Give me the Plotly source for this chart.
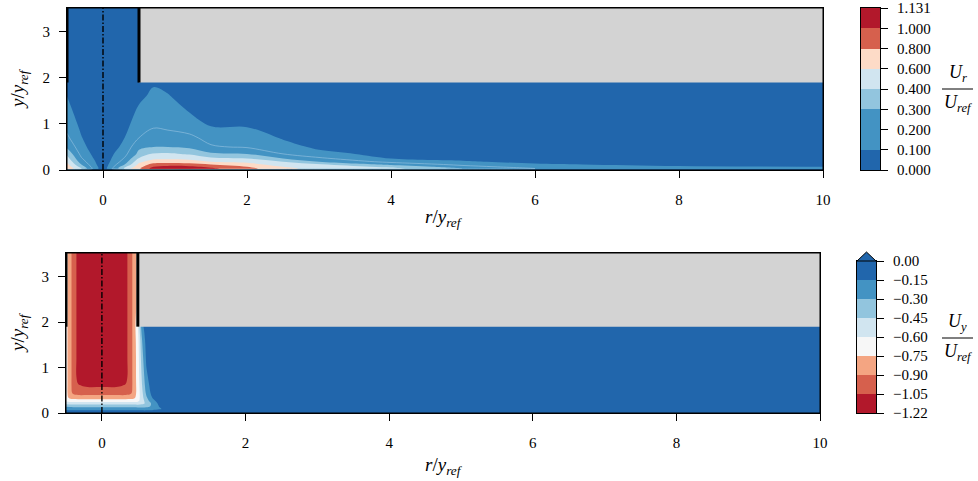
import numpy as np
import plotly.graph_objects as go

W, H = 978, 481

# ---------------- top panel: U_r / U_ref ----------------
r_top = [-0.5, -0.3, -0.15, 0.0, 0.15, 0.3, 0.5, 0.7, 0.9, 1.2, 1.5, 2.0, 2.5, 3.0, 4.0, 5.0, 6.0, 8.0, 10.0]
y_top = [0, 0.03, 0.07, 0.12, 0.18, 0.25, 0.35, 0.5, 0.7, 0.95, 1.25, 1.6, 1.9, 3.52]
# one vertical profile (values along y_top) per r_top position
ur_profiles = [
    [0, 0.76, 0.72, 0.66, 0.58, 0.48, 0.38, 0.28, 0.22, 0.17, 0.13, 0.10, 0.08, 0.03],
    [0, 0.42, 0.36, 0.30, 0.25, 0.21, 0.17, 0.14, 0.105, 0.08, 0.06, 0.04, 0.03, 0.03],
    [0, 0.20, 0.18, 0.15, 0.13, 0.11, 0.09, 0.06, 0.05, 0.04, 0.03, 0.02, 0.02, 0.02],
    [0, 0.03, 0.03, 0.03, 0.03, 0.03, 0.03, 0.02, 0.02, 0.02, 0.02, 0.02, 0.02, 0.02],
    [0, 0.23, 0.20, 0.17, 0.14, 0.12, 0.10, 0.07, 0.05, 0.04, 0.03, 0.02, 0.02, 0.02],
    [0, 0.45, 0.38, 0.30, 0.25, 0.21, 0.17, 0.13, 0.10, 0.07, 0.05, 0.04, 0.03, 0.03],
    [0, 0.78, 0.72, 0.65, 0.55, 0.42, 0.33, 0.28, 0.20, 0.16, 0.12, 0.08, 0.06, 0.03],
    [0, 1.06, 1.00, 0.88, 0.70, 0.55, 0.42, 0.30, 0.25, 0.19, 0.15, 0.12, 0.09, 0.03],
    [0, 1.12, 1.04, 0.90, 0.72, 0.56, 0.43, 0.30, 0.24, 0.18, 0.13, 0.105, 0.08, 0.03],
    [0, 1.10, 1.03, 0.87, 0.70, 0.53, 0.39, 0.28, 0.22, 0.16, 0.10, 0.07, 0.05, 0.03],
    [0, 1.03, 0.96, 0.80, 0.60, 0.45, 0.32, 0.21, 0.17, 0.10, 0.07, 0.05, 0.04, 0.03],
    [0, 0.87, 0.80, 0.68, 0.55, 0.40, 0.30, 0.19, 0.16, 0.095, 0.07, 0.05, 0.04, 0.03],
    [0, 0.64, 0.60, 0.50, 0.40, 0.30, 0.20, 0.14, 0.09, 0.06, 0.05, 0.04, 0.03, 0.03],
    [0, 0.55, 0.50, 0.42, 0.30, 0.22, 0.13, 0.08, 0.06, 0.05, 0.04, 0.03, 0.03, 0.03],
    [0, 0.45, 0.38, 0.28, 0.17, 0.10, 0.07, 0.05, 0.04, 0.03, 0.03, 0.02, 0.02, 0.02],
    [0, 0.30, 0.24, 0.17, 0.11, 0.08, 0.05, 0.04, 0.03, 0.03, 0.02, 0.02, 0.02, 0.02],
    [0, 0.20, 0.15, 0.11, 0.08, 0.05, 0.04, 0.03, 0.03, 0.02, 0.02, 0.02, 0.02, 0.02],
    [0, 0.16, 0.11, 0.08, 0.06, 0.04, 0.03, 0.03, 0.02, 0.02, 0.02, 0.02, 0.02, 0.02],
    [0, 0.14, 0.10, 0.07, 0.05, 0.04, 0.03, 0.02, 0.02, 0.02, 0.02, 0.02, 0.02, 0.02],
]
ur_levels = [0.0, 0.1, 0.2, 0.3, 0.4, 0.6, 0.8, 1.0, 1.131]
ur_ticks = ["0.000", "0.100", "0.200", "0.300", "0.400", "0.600", "0.800", "1.000", "1.131"]
ur_colors = ["#2166ac", "#4393c3", "#4393c3", "#92c5de", "#d1e5f0", "#fddbc7", "#d6604d", "#b2182b"]

# ---------------- bottom panel: U_y / U_ref ----------------
r_bot = [-0.5, -0.45, -0.4, -0.33, -0.2, 0.0, 0.2, 0.33, 0.4, 0.45, 0.5, 0.56, 0.62, 0.7,
         0.8, 0.9, 1.0, 1.5, 2.0, 3.0, 4.0, 6.0, 8.0, 10.0]
y_bot = [0, 0.04, 0.09, 0.15, 0.21, 0.27, 0.34, 0.45, 0.6, 0.8, 1.2, 1.6, 1.9, 2.4, 3.0, 3.52]
# one row (values along r_bot) per y_bot position
uy_rows = [
    [-0.01] * 24,
    [-0.09, -0.10, -0.10, -0.10, -0.10, -0.10, -0.10, -0.10, -0.10, -0.10, -0.10, -0.10, -0.10, -0.09, -0.07, -0.05, -0.04, -0.03, -0.03, -0.02, -0.02, -0.02, -0.02, -0.02],
    [-0.20, -0.21, -0.22, -0.22, -0.22, -0.22, -0.22, -0.22, -0.22, -0.22, -0.23, -0.24, -0.24, -0.22, -0.17, -0.10, -0.06, -0.03, -0.03, -0.02, -0.02, -0.02, -0.02, -0.02],
    [-0.33, -0.34, -0.35, -0.35, -0.35, -0.35, -0.35, -0.35, -0.35, -0.35, -0.36, -0.36, -0.34, -0.28, -0.14, -0.06, -0.04, -0.03, -0.03, -0.02, -0.02, -0.02, -0.02, -0.02],
    [-0.50, -0.51, -0.52, -0.52, -0.52, -0.52, -0.52, -0.52, -0.52, -0.52, -0.52, -0.49, -0.42, -0.27, -0.11, -0.05, -0.03, -0.03, -0.02, -0.02, -0.02, -0.02, -0.02, -0.02],
    [-0.64, -0.67, -0.68, -0.68, -0.68, -0.68, -0.68, -0.68, -0.68, -0.67, -0.64, -0.52, -0.37, -0.20, -0.08, -0.04, -0.03, -0.03, -0.02, -0.02, -0.02, -0.02, -0.02, -0.02],
    [-0.70, -0.78, -0.81, -0.82, -0.82, -0.82, -0.82, -0.82, -0.81, -0.78, -0.68, -0.50, -0.32, -0.15, -0.06, -0.03, -0.03, -0.02, -0.02, -0.02, -0.02, -0.02, -0.02, -0.02],
    [-0.70, -0.82, -0.94, -0.98, -0.98, -0.98, -0.98, -0.98, -0.94, -0.82, -0.69, -0.48, -0.26, -0.10, -0.04, -0.03, -0.02, -0.02, -0.02, -0.02, -0.02, -0.02, -0.02, -0.02],
    [-0.70, -0.82, -0.97, -1.04, -1.07, -1.07, -1.07, -1.04, -0.97, -0.82, -0.69, -0.45, -0.22, -0.08, -0.04, -0.03, -0.02, -0.02, -0.02, -0.02, -0.02, -0.02, -0.02, -0.02],
    [-0.70, -0.82, -0.97, -1.10, -1.17, -1.18, -1.17, -1.10, -0.97, -0.82, -0.68, -0.42, -0.18, -0.06, -0.03, -0.02, -0.02, -0.02, -0.02, -0.02, -0.02, -0.02, -0.02, -0.02],
    [-0.70, -0.82, -0.97, -1.10, -1.19, -1.21, -1.19, -1.10, -0.97, -0.82, -0.68, -0.36, -0.12, -0.04, -0.02, -0.02, -0.02, -0.02, -0.02, -0.02, -0.02, -0.02, -0.02, -0.02],
    [-0.70, -0.82, -0.97, -1.10, -1.19, -1.21, -1.19, -1.10, -0.97, -0.82, -0.66, -0.30, -0.08, -0.03, -0.02, -0.02, -0.02, -0.02, -0.02, -0.02, -0.02, -0.02, -0.02, -0.02],
    [-0.70, -0.82, -0.97, -1.10, -1.19, -1.21, -1.19, -1.10, -0.97, -0.82, -0.62, -0.20, -0.05, -0.02, -0.02, -0.02, -0.02, -0.02, -0.02, -0.02, -0.02, -0.02, -0.02, -0.02],
    [-0.70, -0.82, -0.97, -1.10, -1.19, -1.21, -1.19, -1.10, -0.97, -0.82, -0.70, -0.02, -0.02, -0.02, -0.02, -0.02, -0.02, -0.02, -0.02, -0.02, -0.02, -0.02, -0.02, -0.02],
    [-0.70, -0.82, -0.97, -1.10, -1.19, -1.21, -1.19, -1.10, -0.97, -0.82, -0.70, -0.02, -0.02, -0.02, -0.02, -0.02, -0.02, -0.02, -0.02, -0.02, -0.02, -0.02, -0.02, -0.02],
    [-0.70, -0.82, -0.97, -1.10, -1.19, -1.21, -1.19, -1.10, -0.97, -0.82, -0.70, -0.02, -0.02, -0.02, -0.02, -0.02, -0.02, -0.02, -0.02, -0.02, -0.02, -0.02, -0.02, -0.02],
]
uy_levels = [-1.22, -1.05, -0.90, -0.75, -0.60, -0.45, -0.30, -0.15, 0.00]
uy_ticks = ["\u22121.22", "\u22121.05", "\u22120.90", "\u22120.75", "\u22120.60",
            "\u22120.45", "\u22120.30", "\u22120.15", "0.00"]
uy_colors = ["#b2182b", "#d6604d", "#f4a582", "#f7f7f7", "#d1e5f0", "#92c5de", "#4393c3", "#2166ac"]

x_ticks = [0, 2, 4, 6, 8, 10]
y_ticks = [0, 1, 2, 3]
nozzle_r = 0.5
nozzle_y = 1.9
y_top_lim = 3.52

# ---------------- helpers ----------------
def px_x(p):
    return p / W

def px_y(p):
    return 1 - p / H

def step_scale(colors):
    n = len(colors) - 1
    return [[i / n, c] for i, c in enumerate(colors)]

# map values onto uniform level-index space (uneven contour levels)
ur_idx = np.interp(np.array(ur_profiles, dtype=float).T, ur_levels, np.arange(len(ur_levels)))
uy_idx = np.interp(np.array(uy_rows, dtype=float), uy_levels, np.arange(len(uy_levels)))

FONT = "Liberation Serif, Times New Roman, DejaVu Serif, serif"
tickfont = dict(family=FONT, size=15, color="black")

def field(x, y, z, colors, xa, ya):
    return go.Contour(
        x=x, y=y, z=z, xaxis=xa, yaxis=ya,
        colorscale=step_scale(colors), showscale=False, autocontour=False,
        contours=dict(start=1, end=len(colors) - 1, size=1, coloring="fill", showlines=False),
        line=dict(width=0, smoothing=1.0), hoverinfo="skip",
    )

def cbar(colors, xa, ya):
    n = len(colors)
    return go.Heatmap(
        x=[0], y=[i + 0.5 for i in range(n)], z=[[i] for i in range(n)],
        colorscale=step_scale(colors), zmin=0, zmax=n - 1, showscale=False,
        xaxis=xa, yaxis=ya, hoverinfo="skip",
    )

fig = go.Figure()
fig.add_trace(field(r_top, y_top, ur_idx, ur_colors, "x", "y"))
# faint seam line at the 0.2 level (two bands share the same colour)
fig.add_trace(go.Contour(
    x=r_top, y=y_top, z=ur_idx, xaxis="x", yaxis="y", showscale=False, autocontour=False,
    contours=dict(start=2, end=2, size=1, coloring="none"),
    line=dict(width=0.7, color="rgba(150,195,225,0.9)", smoothing=1.0), hoverinfo="skip",
))
fig.add_trace(field(r_bot, y_bot, uy_idx, uy_colors, "x2", "y2"))
fig.add_trace(cbar(ur_colors, "x3", "y3"))
fig.add_trace(cbar(uy_colors, "x4", "y4"))

# ---------------- axes ----------------
top_dom_x = [px_x(67), px_x(823)]
top_dom_y = [px_y(170), px_y(8)]
bot_dom_x = [px_x(66), px_x(820)]
bot_dom_y = [px_y(413), px_y(253)]

def xax(domain, anchor):
    return dict(domain=domain, anchor=anchor, range=[-0.5, 10], tickvals=x_ticks,
                ticks="outside", ticklen=7, tickwidth=1, tickcolor="black",
                showline=True, linecolor="black", linewidth=1, mirror=True,
                showgrid=False, zeroline=False, tickfont=tickfont, ticklabelstandoff=9)

def yax(domain, anchor):
    return dict(domain=domain, anchor=anchor, range=[0, y_top_lim], tickvals=y_ticks,
                ticks="outside", ticklen=7, tickwidth=1, tickcolor="black",
                showline=True, linecolor="black", linewidth=1, mirror=True,
                showgrid=False, zeroline=False, tickfont=tickfont, ticklabelstandoff=6)

def cbx(domain, anchor):
    return dict(domain=domain, anchor=anchor, range=[-0.5, 0.5], showticklabels=False,
                ticks="", showline=True, linecolor="black", linewidth=1, mirror=True,
                showgrid=False, zeroline=False)

def cby(domain, anchor, labels):
    return dict(domain=domain, anchor=anchor, range=[0, len(labels) - 1], side="right",
                tickvals=list(range(len(labels))), ticktext=labels,
                ticks="outside", ticklen=7, tickwidth=1, tickcolor="black",
                showline=True, linecolor="black", linewidth=1, mirror=True,
                showgrid=False, zeroline=False, tickfont=tickfont, ticklabelstandoff=6)

cb1_x = [px_x(861), px_x(880)]
cb2_x = [px_x(857), px_x(876)]
cb2_y = [px_y(413), px_y(261)]

shapes = []
for xr, yr in (("x", "y"), ("x2", "y2")):
    shapes.append(dict(type="rect", xref=xr, yref=yr, x0=nozzle_r, x1=10, y0=nozzle_y, y1=y_top_lim,
                       fillcolor="#d3d3d3", line=dict(width=0), layer="above"))
    for xw in (-nozzle_r, nozzle_r):
        shapes.append(dict(type="line", xref=xr, yref=yr, x0=xw, x1=xw, y0=nozzle_y, y1=y_top_lim,
                           line=dict(color="black", width=3), layer="above"))
    shapes.append(dict(type="line", xref=xr, yref=yr, x0=0, x1=0, y0=0, y1=y_top_lim,
                       line=dict(color="black", width=1.4, dash="6px,2px,1.5px,2px"), layer="above"))
    shapes.append(dict(type="rect", xref=xr + " domain", yref=yr + " domain", x0=0, x1=1, y0=0, y1=1,
                       line=dict(color="black", width=1), fillcolor="rgba(0,0,0,0)", layer="above"))

# extend-max triangle on lower colour bar
shapes.append(dict(type="path", xref="paper", yref="paper",
                   path=f"M {px_x(857)},{px_y(261)} L {px_x(866.5)},{px_y(252)} L {px_x(876)},{px_y(261)} Z",
                   fillcolor=uy_colors[-1], line=dict(color="black", width=1), layer="above"))
# fraction bars of the colour-bar labels
for yy in (89, 338):
    shapes.append(dict(type="line", xref="paper", yref="paper", x0=px_x(942), x1=px_x(973),
                       y0=px_y(yy), y1=px_y(yy), line=dict(color="black", width=1)))

tfont = dict(family=FONT, size=19, color="black")
ffont = dict(family=FONT, size=18, color="black")
annotations = []
for cy in (218, 466):
    annotations.append(dict(xref="paper", yref="paper", x=px_x(444), y=px_y(cy), showarrow=False,
                            text="<i>r</i>/<i>y</i><sub><i>ref</i></sub>", font=tfont,
                            xanchor="center", yanchor="middle"))
for cy in (89, 333):
    annotations.append(dict(xref="paper", yref="paper", x=px_x(19), y=px_y(cy), showarrow=False,
                            text="<i>y</i>/<i>y</i><sub><i>ref</i></sub>", font=tfont, textangle=-90,
                            xanchor="center", yanchor="middle"))
for num, cy in (("<i>U</i><sub><i>r</i></sub>", 89), ("<i>U</i><sub><i>y</i></sub>", 338)):
    annotations.append(dict(xref="paper", yref="paper", x=px_x(957.5), y=px_y(cy - 2), showarrow=False,
                            text=num, font=ffont, xanchor="center", yanchor="bottom"))
    annotations.append(dict(xref="paper", yref="paper", x=px_x(957.5), y=px_y(cy + 1), showarrow=False,
                            text="<i>U</i><sub><i>ref</i></sub>", font=ffont, xanchor="center", yanchor="top"))

fig.update_layout(
    width=W, height=H, margin=dict(l=0, r=0, t=0, b=0),
    paper_bgcolor="white", plot_bgcolor="white", template="none", showlegend=False,
    font=dict(family=FONT, size=15, color="black"),
    xaxis=xax(top_dom_x, "y"), yaxis=yax(top_dom_y, "x"),
    xaxis2=xax(bot_dom_x, "y2"), yaxis2=yax(bot_dom_y, "x2"),
    xaxis3=cbx(cb1_x, "y3"), yaxis3=cby(top_dom_y, "x3", ur_ticks),
    xaxis4=cbx(cb2_x, "y4"), yaxis4=cby(cb2_y, "x4", uy_ticks),
    shapes=shapes, annotations=annotations,
)

fig.write_html("out.html")
